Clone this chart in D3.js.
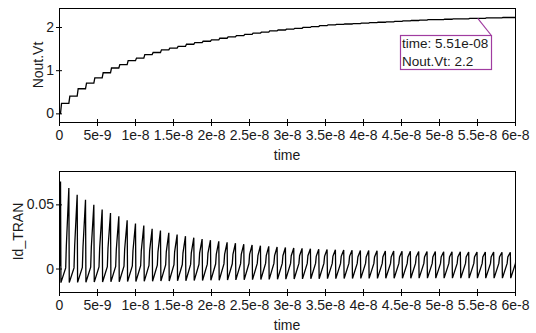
<!DOCTYPE html>
<html>
<head>
<meta charset="utf-8">
<script src="https://cdn.jsdelivr.net/npm/d3@7"></script>
<style>
  body { margin: 0; background: #fff; }
  text { font-family: "Liberation Sans", Arial, sans-serif; fill: #1a1a1a; }
</style>
</head>
<body>
<svg id="svg" width="536" height="333"></svg>
<script>
// pulse train timing
const period = 1.096e-9
const firstSpike = 0.2e-9

// Nout.Vt level after each pulse
const voutLevels = [
  0.23, 0.40, 0.57, 0.70, 0.82, 0.94, 1.05, 1.13, 1.22, 1.28,
  1.36, 1.41, 1.47, 1.51, 1.55, 1.60, 1.64, 1.67, 1.70, 1.74,
  1.77, 1.80, 1.83, 1.86, 1.88, 1.91, 1.93, 1.95, 1.97, 1.99,
  2.01, 2.03, 2.05, 2.06, 2.07, 2.08, 2.09, 2.10, 2.11, 2.12,
  2.13, 2.14, 2.15, 2.16, 2.17, 2.17, 2.18, 2.19, 2.19, 2.20,
  2.20, 2.21, 2.21, 2.22, 2.22
]

// Id_TRAN per pulse: peak, trough after it, top of the slow ramp, shoulder before the next spike
const idPeaks = [
  0.0678, 0.0627, 0.0575, 0.0536, 0.0497, 0.0459, 0.0433, 0.0407, 0.0376, 0.0351,
  0.0335, 0.0310, 0.0296, 0.0279, 0.0265, 0.0252, 0.0240, 0.0230, 0.0221, 0.0212,
  0.0204, 0.0197, 0.0190, 0.0184, 0.0178, 0.0173, 0.0168, 0.0164, 0.0160, 0.0157,
  0.0154, 0.0151, 0.0149, 0.0147, 0.0145, 0.0143, 0.0141, 0.0140, 0.0138, 0.0137,
  0.0136, 0.0135, 0.0134, 0.0133, 0.0132, 0.0132, 0.0131, 0.0130, 0.0130, 0.0129,
  0.0129, 0.0128, 0.0128, 0.0127, 0.0127
]
const idTroughs = [
  -0.0110, -0.0109, -0.0108, -0.0107, -0.0106, -0.0105, -0.0104, -0.0103, -0.0102, -0.0101,
  -0.0100, -0.0099, -0.0098, -0.0097, -0.0096, -0.0095, -0.0094, -0.0093, -0.0092, -0.0091,
  -0.0090, -0.0089, -0.0088, -0.0087, -0.0086, -0.0085, -0.0084, -0.0083, -0.0082, -0.0081,
  -0.0080, -0.0080, -0.0079, -0.0079, -0.0078, -0.0078, -0.0077, -0.0077, -0.0077, -0.0076,
  -0.0076, -0.0076, -0.0076, -0.0075, -0.0075, -0.0075, -0.0075, -0.0075, -0.0075, -0.0075,
  -0.0075, -0.0075, -0.0075, -0.0075, -0.0075
]
const idRampTops = [
  0.0005, 0.0005, 0.0008, 0.0010, 0.0012, 0.0014, 0.0016, 0.0018, 0.0020, 0.0022,
  0.0024, 0.0026, 0.0028, 0.0030, 0.0031, 0.0032, 0.0033, 0.0034, 0.0035, 0.0036,
  0.0037, 0.0038, 0.0039, 0.0040, 0.0040, 0.0040, 0.0040, 0.0040, 0.0040, 0.0040,
  0.0040, 0.0040, 0.0040, 0.0040, 0.0040, 0.0040, 0.0040, 0.0040, 0.0040, 0.0040,
  0.0040, 0.0040, 0.0040, 0.0040, 0.0040, 0.0040, 0.0040, 0.0040, 0.0040, 0.0040,
  0.0040, 0.0040, 0.0040, 0.0040, 0.0040
]
const idKnees = [
  0.018, 0.018, 0.017, 0.017, 0.016, 0.016, 0.015, 0.015, 0.014, 0.014,
  0.014, 0.013, 0.013, 0.013, 0.012, 0.012, 0.012, 0.012, 0.011, 0.011,
  0.011, 0.011, 0.011, 0.010, 0.010, 0.010, 0.010, 0.010, 0.010, 0.010,
  0.0095, 0.0095, 0.0095, 0.0095, 0.0095, 0.009, 0.009, 0.009, 0.009, 0.009,
  0.009, 0.009, 0.009, 0.009, 0.009, 0.009, 0.009, 0.009, 0.009, 0.009,
  0.009, 0.009, 0.009, 0.009, 0.009
]
// where in a pulse period peak, trough, ramp top and shoulder fall
const cyclePhases = [0, 0.05, 0.62, 0.7]

const xTicks = [0, 5e-9, 1e-8, 1.5e-8, 2e-8, 2.5e-8, 3e-8, 3.5e-8, 4e-8, 4.5e-8, 5e-8, 5.5e-8, 6e-8]
const xTickLabels = ["0", "5e-9", "1e-8", "1.5e-8", "2e-8", "2.5e-8", "3e-8", "3.5e-8", "4e-8", "4.5e-8", "5e-8", "5.5e-8", "6e-8"]
const voutTicks = [0, 1, 2]
const idTicks = [0, 0.05]
const idTickLabels = ["0", "0.05"]
const marker = {time: 5.51e-8, value: 2.2}

const svg = d3.select("#svg")
const left = 59, right = 515

const x = d3.scaleLinear().domain([0, 6e-8]).range([left, right])
const yTop = d3.scaleLinear().domain([-0.2, 2.44]).range([122, 8])
const yBot = d3.scaleLinear().domain([-0.0183, 0.076]).range([292, 171])

// build the traces
const voutPts = [[0, 0]]
voutLevels.forEach((v, k) => {
  const t = firstSpike + k * period
  voutPts.push([t, k ? voutLevels[k - 1] : 0])
  voutPts.push([t + 0.12 * period, v])
})
voutPts.push([6e-8, voutLevels[voutLevels.length - 1]])

const idPts = [[0, 0], [firstSpike * 0.6, 0.004]]
idPeaks.forEach((p, k) => {
  const t = firstSpike + k * period
  const vals = [p, idTroughs[k], idRampTops[k], idKnees[k]]
  cyclePhases.forEach((ph, i) => idPts.push([t + ph * period, vals[i]]))
})

function panel(y, ticks, labels, pts, yLabel, yLabelX, clipId) {
  const [y0, y1] = y.range()
  svg.append("clipPath").attr("id", clipId)
    .append("rect").attr("x", left).attr("y", y1).attr("width", right - left).attr("height", y0 - y1)

  svg.append("path")
    .datum(pts)
    .attr("clip-path", "url(#" + clipId + ")")
    .attr("fill", "none")
    .attr("stroke", "#000")
    .attr("stroke-width", 1.3)
    .attr("d", d3.line().x(d => x(d[0])).y(d => y(d[1])))

  svg.append("rect")
    .attr("x", left + 0.5).attr("y", y1 + 0.5)
    .attr("width", right - left).attr("height", y0 - y1)
    .attr("fill", "none").attr("stroke", "#000")

  const xa = svg.append("g").attr("transform", "translate(0," + y0 + ")")
    .call(d3.axisBottom(x).tickValues(xTicks).tickFormat((d, i) => xTickLabels[i]).tickSizeOuter(0).tickSize(4))
  xa.selectAll(".tick line").attr("y1", -3)
  xa.selectAll(".tick text").attr("y", 8).style("font-size", "14px")
  xa.select(".domain").remove()

  const ya = svg.append("g").attr("transform", "translate(" + left + ",0)")
    .call(d3.axisLeft(y).tickValues(ticks).tickFormat((d, i) => labels[i]).tickSizeOuter(0).tickSize(3))
  ya.selectAll(".tick line").attr("x1", 3)
  ya.selectAll(".tick text").attr("x", -5).style("font-size", "14px")
  ya.select(".domain").remove()

  svg.append("text")
    .attr("x", (left + right) / 2).attr("y", y0 + 38)
    .attr("text-anchor", "middle").style("font-size", "14px")
    .text("time")

  svg.append("text")
    .attr("transform", "translate(" + yLabelX + "," + (y0 + y1) / 2 + ") rotate(-90)")
    .attr("text-anchor", "middle").attr("dy", "0.35em").style("font-size", "14px")
    .text(yLabel)
}

panel(yTop, voutTicks, voutTicks.map(String), voutPts, "Nout.Vt", 38, "clipTop")
panel(yBot, idTicks, idTickLabels, idPts, "Id_TRAN", 18, "clipBot")

// data tip
const tip = svg.append("g")
const bx = 400, by = 35, bw = 91, bh = 34
tip.append("line")
  .attr("x1", x(marker.time)).attr("y1", yTop(marker.value))
  .attr("x2", bx + bw).attr("y2", by)
  .attr("stroke", "#a03ca0").attr("stroke-width", 1.2)
tip.append("rect")
  .attr("x", bx + 0.5).attr("y", by + 0.5).attr("width", bw).attr("height", bh)
  .attr("fill", "#fff").attr("stroke", "#a03ca0").attr("stroke-width", 1.2)
tip.append("text").attr("x", bx + 2).attr("y", by + 13).style("font-size", "13.5px")
  .text("time: 5.51e-08")
tip.append("text").attr("x", bx + 2).attr("y", by + 31).style("font-size", "13.5px")
  .text("Nout.Vt: " + marker.value)
</script>
</body>
</html>
